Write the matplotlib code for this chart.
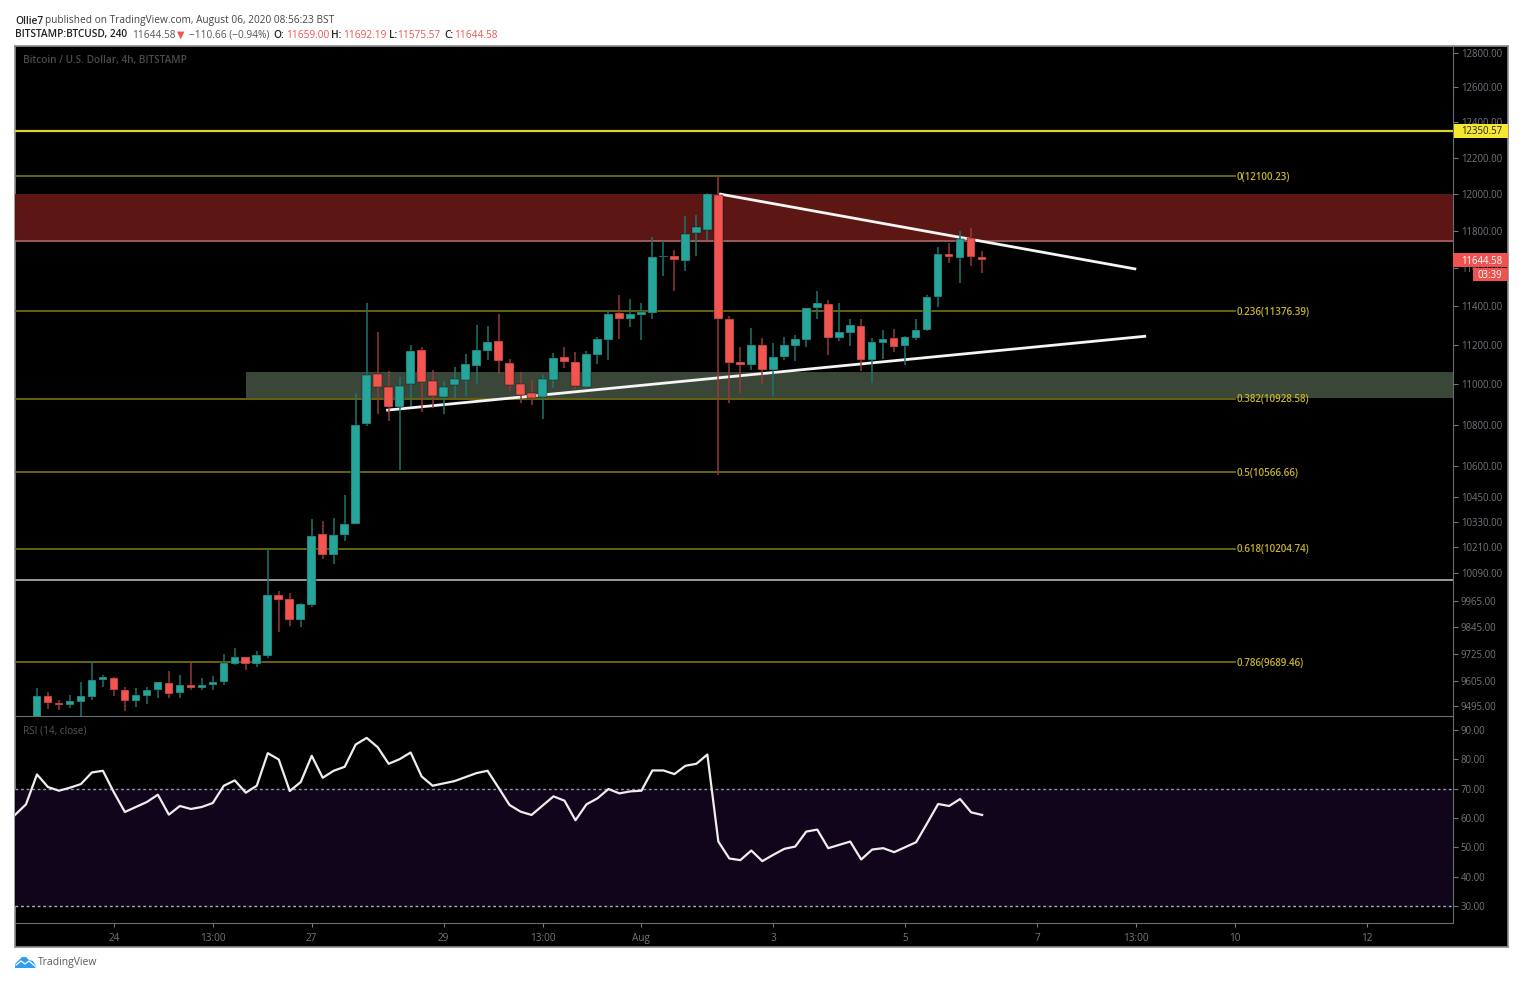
import numpy as np
import matplotlib
matplotlib.use('Agg')
import matplotlib.pyplot as plt
from matplotlib.patches import Polygon, Rectangle

plt.rcParams['font.family'] = ['Open Sans', 'DejaVu Sans']

# 4h candles
opens = [9440, 9540, 9510, 9501, 9514, 9536, 9609, 9618, 9568, 9518, 9540, 9564, 9598, 9551, 9586, 9575, 9588, 9602,
	9681, 9711, 9681, 9716, 9990, 9973, 9875, 9944, 10275, 10175, 10270, 10320, 10803, 11053, 10988, 10885, 11002,
	11177, 11020, 10935, 10995, 11023, 11095, 11170, 11219, 11108, 11000, 10955, 10937, 11022, 11139, 11115, 10988,
	11148, 11225, 11367, 11332, 11357, 11366, 11660, 11667, 11641, 11790, 11807, 11998, 11334, 11115, 11100, 11200,
	11075, 11140, 11197, 11225, 11390, 11413, 11235, 11260, 11297, 11125, 11212, 11237, 11193, 11238, 11275, 11448,
	11676, 11656, 11762, 11659]
highs = [9574, 9557, 9524, 9543, 9602, 9689, 9631, 9624, 9580, 9573, 9580, 9602, 9651, 9632, 9685, 9620, 9626, 9726,
	9751, 9713, 9736, 10208, 10008, 10001, 9953, 10342, 10333, 10350, 10460, 10957, 11417, 11265, 11070, 11038, 11200,
	11192, 11075, 11017, 11090, 11152, 11302, 11297, 11358, 11130, 11062, 11025, 11047, 11162, 11192, 11165, 11172,
	11243, 11383, 11458, 11437, 11415, 11766, 11744, 11700, 11883, 11888, 12005, 12100, 11352, 11192, 11288, 11235,
	11210, 11243, 11250, 11394, 11482, 11431, 11420, 11333, 11333, 11238, 11277, 11285, 11245, 11333, 11460, 11713,
	11734, 11800, 11817, 11692.19]
lows = [9420, 9485, 9480, 9488, 9450, 9524, 9579, 9538, 9474, 9492, 9505, 9531, 9531, 9531, 9568, 9568, 9565, 9586,
	9674, 9656, 9667, 9705, 9823, 9851, 9844, 9935, 10156, 10135, 10240, 10318, 10795, 10855, 10818, 10580, 10893,
	10863, 10882, 10855, 10932, 10944, 11003, 11125, 11055, 10965, 10905, 10895, 10829, 10980, 11085, 10975, 10983,
	11105, 11125, 11232, 11294, 11228, 11335, 11558, 11480, 11586, 11665, 11750, 10555, 10905, 10955, 11075, 11003,
	10940, 11125, 11120, 11192, 11332, 11150, 11220, 11197, 11068, 11005, 11130, 11167, 11097, 11225, 11272, 11398,
	11630, 11525, 11610, 11575.57]
closes = [9540, 9510, 9499, 9517, 9540, 9611, 9621, 9567, 9518, 9543, 9565, 9600, 9548, 9586, 9575, 9588, 9602, 9684,
	9711, 9681, 9721, 9991, 9970, 9875, 9951, 10262, 10173, 10270, 10322, 10797, 11050, 10988, 10889, 10993, 11170,
	11010, 10940, 10988, 11030, 11103, 11173, 11214, 11117, 10996, 10945, 10932, 11027, 11135, 11112, 10990, 11152,
	11230, 11358, 11332, 11358, 11369, 11661, 11667, 11645, 11784, 11820, 12002, 11332, 11110, 11100, 11202, 11075,
	11138, 11202, 11232, 11393, 11415, 11237, 11268, 11302, 11125, 11215, 11232, 11190, 11243, 11277, 11450, 11675,
	11660, 11757, 11660, 11644.58]

# RSI starts two bars before the first visible candle
rsi_values = [61.05, 64.67, 74.87, 70.57, 69.32, 70.34, 71.59, 75.55, 76.12, 68.75, 62.07, 63.77, 65.47, 67.96, 61.16,
	64.11, 63.09, 63.77, 65.13, 71.02, 72.83, 68.64, 71.02, 82.12, 79.97, 69.21, 72.27, 81.22, 73.74, 76.12, 77.48,
	85.07, 87.34, 84.16, 78.5, 80.08, 82.35, 74.19, 71.02, 71.81, 72.6, 73.97, 75.33, 76.12, 70.34, 64.45, 62.18,
	61.05, 64.22, 67.39, 65.92, 59.24, 64.67, 66.71, 69.89, 68.41, 69.09, 69.32, 76.23, 76.23, 74.99, 77.82, 78.5,
	81.67, 51.98, 46.2, 45.64, 48.92, 45.3, 47.45, 49.49, 50.28, 55.38, 56.06, 49.72, 50.85, 51.98, 45.86, 49.26,
	49.72, 48.36, 50.06, 51.76, 58.22, 64.79, 64.11, 66.49, 61.95, 61.05]

fib_names = ['0', '0.236', '0.382', '0.5', '0.618', '0.786']
fib_prices = [12100.23, 11376.39, 10928.58, 10566.66, 10204.74, 9689.46]

price_ticks = [12800, 12600, 12400, 12200, 12000, 11800, 11600, 11400, 11200, 11000, 10800, 10600, 10450, 10330,
	10210, 10090, 9965, 9845, 9725, 9605, 9495]
rsi_ticks = [90, 80, 70, 60, 50, 40, 30]
date_ticks = [7, 16, 25, 37, 46, 55, 67, 79, 91, 100, 109, 121]
date_labels = ['24', '13:00', '27', '29', '13:00', 'Aug', '3', '5', '7', '13:00', '10', '12']

resistance_zone = (11746, 12000)
support_zone = (10930, 11065)
support_start = 19
yellow_level = 12350.57
grey_level = 10058
upper_trend = ([62.2, 99.9], [12000, 11597])
lower_trend = ([31.9, 100.8], [10872, 11245])

UP = '#26a69a'
DOWN = '#f2544f'
UP_WICK = '#1c756c'
DOWN_WICK = '#96393a'
GREY = '#74767e'
W, H = 1526, 984


def pane(fig, left, top, right, bottom):
	ax = fig.add_axes([left / W, 1 - bottom / H, (right - left) / W, (bottom - top) / H])
	ax.set_facecolor('black')
	for s in ax.spines.values():
		s.set_visible(False)
	return ax


fig = plt.figure(figsize=(W / 100, H / 100), dpi=100, facecolor='white')

# black frame behind everything
frame = pane(fig, 15, 46, 1508, 947)
frame.set_xticks([])
frame.set_yticks([])
for s in frame.spines.values():
	s.set_visible(True)
	s.set_color('#8d8d8d')
	s.set_linewidth(1.2)

ax = pane(fig, 15, 46, 1453, 716)
ax.patch.set_alpha(0)
ax.set_yscale('log')
ax.set_xlim(-2, 128.85)
ax.set_ylim(9453, 12841)

# zones and levels
ax.axhspan(resistance_zone[0], resistance_zone[1], color='#5c1715', lw=0, zorder=1)
ax.axhline(resistance_zone[0], color='#a5615f', lw=1.3, zorder=2)
ax.fill_between([support_start, 128.85], support_zone[0], support_zone[1], color='#3a4738', lw=0, zorder=1)
ax.axhline(yellow_level, color='#dfd32c', lw=1.6, zorder=2)
ax.axhline(grey_level, color='#9a9a9a', lw=1.4, zorder=2)
for name, price in zip(fib_names, fib_prices):
	ax.plot([-2, 109], [price, price], color='#706a12', lw=1.3, zorder=2)
	ax.annotate('%s(%.2f)' % (name, price), (109.2, price), xytext=(0, -0.8), textcoords='offset points',
		color='#c4b22c', fontsize=7.1, weight='semibold', va='center', ha='left', zorder=6)

# trend lines go under the candles
ax.plot(upper_trend[0], upper_trend[1], color='#f5f5f5', lw=2, zorder=3)
ax.plot(lower_trend[0], lower_trend[1], color='#f5f5f5', lw=2, zorder=3)

bars = np.arange(len(opens))
o = np.array(opens, dtype=float)
c = np.array(closes, dtype=float)
rising = c >= o
ax.vlines(bars[rising], np.array(lows)[rising], np.array(highs)[rising], color=UP_WICK, lw=1.1, zorder=4)
ax.vlines(bars[~rising], np.array(lows)[~rising], np.array(highs)[~rising], color=DOWN_WICK, lw=1.1, zorder=4)
colors = [UP if r else DOWN for r in rising]
ax.bar(bars, np.abs(c - o), bottom=np.minimum(o, c), width=0.78, color=colors, edgecolor='#101010', lw=0.3, zorder=5)

ax.set_xticks([])
ax.minorticks_off()
ax.yaxis.tick_right()
ax.set_yticks(price_ticks, ['%.2f' % t for t in price_ticks])
ax.yaxis.set_minor_locator(matplotlib.ticker.NullLocator())
ax.tick_params(axis='y', which='major', length=3.5, width=0.8, color=GREY, labelcolor=GREY, labelsize=6.9, pad=2)
ax.spines['right'].set_visible(True)
ax.spines['right'].set_color('#6a6c72')
ax.spines['bottom'].set_visible(True)
ax.spines['bottom'].set_color('#6a6c72')

# RSI pane
ax2 = pane(fig, 15, 716, 1453, 923)
ax2.patch.set_alpha(0)
ax2.set_xlim(-2, 128.85)
ax2.set_ylim(24.2, 94.8)
ax2.axhspan(30, 70, color='#10051b', lw=0, zorder=1)
ax2.axhline(70, color='#9a9a9a', lw=1, dashes=(2, 2), zorder=2)
ax2.axhline(30, color='#b0b0b0', lw=1, dashes=(2, 2), zorder=2)
ax2.plot(np.arange(len(rsi_values)) - 2, rsi_values, color='#eeeeee', lw=1.6, zorder=3)
ax2.yaxis.tick_right()
ax2.set_yticks(rsi_ticks, ['%.2f' % t for t in rsi_ticks])
ax2.set_xticks(date_ticks, date_labels)
ax2.tick_params(axis='y', length=3.5, width=0.8, color=GREY, labelcolor=GREY, labelsize=6.9, pad=2)
ax2.tick_params(axis='x', length=3, width=0.8, color=GREY, labelcolor=GREY, labelsize=7.2, pad=4)
for side in ['right', 'bottom']:
	ax2.spines[side].set_visible(True)
	ax2.spines[side].set_color('#6a6c72')

# overlay in pixel coordinates for header text, price tags and logo
ov = fig.add_axes([0, 0, 1, 1], zorder=10)
ov.set_xlim(0, W)
ov.set_ylim(H, 0)
ov.axis('off')

ov.add_patch(Rectangle((1454, 124), 53.5, 14, color='#f4e72e', lw=0))
ov.text(1461, 132, '12350.57', color='#222222', fontsize=6.9, va='center')
ov.add_patch(Rectangle((1453, 253), 54.5, 14.3, color='#ef5350', lw=0))
ov.text(1461, 261, '11644.58', color='white', fontsize=6.9, va='center')
ov.add_patch(Rectangle((1473, 268), 34.5, 13, color='#ef5350', lw=0))
ov.text(1477, 275, '03:39', color='white', fontsize=6.9, va='center')

HEAD = 7.25
header = [
	(15, 21, 'Ollie7', '#222222', 'semibold'),
	(45, 21, 'published on TradingView.com, August 06, 2020 08:56:23 BST', '#444444', 'normal'),
	(15, 35, 'BITSTAMP:BTCUSD, 240', '#222222', 'semibold'),
	(132, 35, '11644.58', '#555555', 'normal'),
	(189, 35, '\u2212110.66 (\u22120.94%)', '#555555', 'normal'),
	(273, 35, 'O:', '#222222', 'semibold'),
	(286, 35, '11659.00', '#ef5350', 'normal'),
	(331, 35, 'H:', '#222222', 'semibold'),
	(343, 35, '11692.19', '#ef5350', 'normal'),
	(389, 35, 'L:', '#222222', 'semibold'),
	(397, 35, '11575.57', '#ef5350', 'normal'),
	(444, 35, 'C:', '#222222', 'semibold'),
	(454, 35, '11644.58', '#ef5350', 'normal'),
]
for x, y, s, col, wt in header:
	ov.text(x, y, s, color=col, fontsize=HEAD, weight=wt, va='center')
ov.text(177, 35, '\u25bc', color='#ef5350', fontsize=7, va='center', family=['DejaVu Sans'])

ov.text(23, 60.5, 'Bitcoin / U.S. Dollar, 4h, BITSTAMP', color='#4a4b50', fontsize=7.2, weight='semibold', va='center')
ov.text(23, 731, 'RSI (14, close)', color='#55565b', fontsize=7.2, va='center')

# TradingView logo
cloud = [(15, 968), (15, 964), (18, 961), (22, 957), (26, 957), (29, 960), (33, 961), (36, 966), (35, 968)]
ov.add_patch(Polygon(cloud, closed=True, color='#2e9df2', lw=0))
ov.plot([16, 21, 25, 29, 35], [965, 961, 964, 961, 966], color='white', lw=0.9)
ov.text(38, 962.5, 'TradingView', color='#5a5a5a', fontsize=7.5, va='center')

fig.savefig('out.png', dpi=100, facecolor='white')
